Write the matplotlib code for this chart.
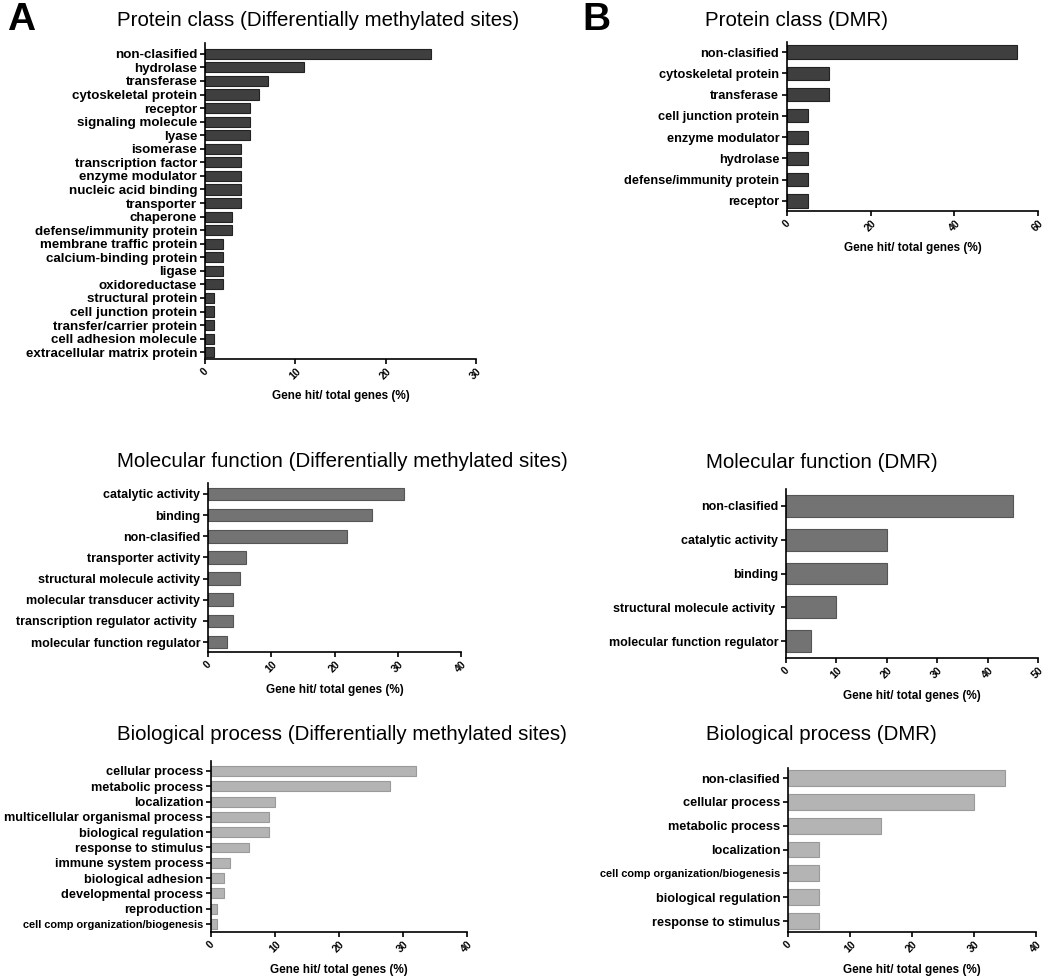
import matplotlib
matplotlib.use("Agg")
import matplotlib.pyplot as plt
import numpy as np

plt.rcParams['font.family'] = ['Liberation Sans', 'DejaVu Sans']

# ---- data ----
pc_dms_labels = ["non-clasified", "hydrolase", "transferase", "cytoskeletal protein",
                 "receptor", "signaling molecule", "lyase", "isomerase",
                 "transcription factor", "enzyme modulator", "nucleic acid binding",
                 "transporter", "chaperone", "defense/immunity protein",
                 "membrane traffic protein", "calcium-binding protein", "ligase",
                 "oxidoreductase", "structural protein", "cell junction protein",
                 "transfer/carrier protein", "cell adhesion molecule",
                 "extracellular matrix protein"]
pc_dms_values = [25, 11, 7, 6, 5, 5, 5, 4, 4, 4, 4, 4, 3, 3, 2, 2, 2, 2, 1, 1, 1, 1, 1]

pc_dmr_labels = ["non-clasified", "cytoskeletal protein", "transferase",
                 "cell junction protein", "enzyme modulator", "hydrolase",
                 "defense/immunity protein", "receptor"]
pc_dmr_values = [55, 10, 10, 5, 5, 5, 5, 5]

mf_dms_labels = ["catalytic activity", "binding", "non-clasified", "transporter activity",
                 "structural molecule activity", "molecular transducer activity",
                 "transcription regulator activity ", "molecular function regulator"]
mf_dms_values = [31, 26, 22, 6, 5, 4, 4, 3]

mf_dmr_labels = ["non-clasified", "catalytic activity", "binding",
                 "structural molecule activity ", "molecular function regulator"]
mf_dmr_values = [45, 20, 20, 10, 5]

bp_dms_labels = ["cellular process", "metabolic process", "localization",
                 "multicellular organismal process", "biological regulation",
                 "response to stimulus", "immune system process", "biological adhesion",
                 "developmental process", "reproduction",
                 "cell comp organization/biogenesis"]
bp_dms_values = [32, 28, 10, 9, 9, 6, 3, 2, 2, 1, 1]

bp_dmr_labels = ["non-clasified", "cellular process", "metabolic process", "localization",
                 "cell comp organization/biogenesis", "biological regulation",
                 "response to stimulus"]
bp_dmr_values = [35, 30, 15, 5, 5, 5, 5]

W, H = 1050, 977
fig = plt.figure(figsize=(W / 100, H / 100), dpi=100)


def panel(box, labels, values, xmax, step, color, edge, height, pad_top, pad_bot, fs=9):
    l, r, t, b = box
    ax = fig.add_axes([l / W, 1 - b / H, (r - l) / W, (b - t) / H])
    y = np.arange(len(labels))
    ax.barh(y, values, height=height, color=color, edgecolor=edge, linewidth=0.8)
    ax.set_ylim(len(labels) - 1 + pad_bot, -pad_top)
    ax.set_xlim(0, xmax)
    ax.set_xticks(np.arange(0, xmax + 1, step))
    ax.set_yticks(y)
    ax.set_yticklabels(labels, fontsize=fs, fontweight='bold')
    for lab in ax.get_yticklabels():
        if lab.get_text().startswith("cell comp"):
            lab.set_fontsize(7.9)
    for lab in ax.get_xticklabels():
        lab.set_rotation(45)
        lab.set_fontsize(7.5)
        lab.set_fontweight('bold')
    ax.spines['top'].set_visible(False)
    ax.spines['right'].set_visible(False)
    ax.spines['left'].set_linewidth(1.2)
    ax.spines['bottom'].set_linewidth(1.2)
    ax.tick_params(axis='both', length=3.5, width=1.2, pad=2)
    ax.annotate("Gene hit/ total genes (%)", xy=(0.5, 0), xycoords='axes fraction',
                xytext=(0, -27), textcoords='offset points', ha='center', va='center',
                fontsize=8.5, fontweight='bold')
    return ax


dark, dark_e = "#3f3f3f", "#222222"
mid, mid_e = "#737373", "#555555"
light, light_e = "#b4b4b4", "#9a9a9a"

panel((205, 476, 43, 359), pc_dms_labels, pc_dms_values, 30, 10, dark, dark_e, 0.75, 0.8, 0.5, fs=9.6)
panel((787, 1038, 42, 211), pc_dmr_labels, pc_dmr_values, 60, 20, dark, dark_e, 0.62, 0.47, 0.47, fs=9.2)
panel((208, 461, 483, 652), mf_dms_labels, mf_dms_values, 40, 10, mid, mid_e, 0.6, 0.52, 0.47)
panel((786, 1038, 489, 658), mf_dmr_labels, mf_dmr_values, 50, 10, mid, mid_e, 0.64, 0.5, 0.5)
panel((211, 467, 761, 932), bp_dms_labels, bp_dms_values, 40, 10, light, light_e, 0.65, 0.65, 0.52, fs=9.2)
panel((788, 1036, 768, 932), bp_dmr_labels, bp_dmr_values, 40, 10, light, light_e, 0.66, 0.42, 0.46, fs=9.2)

# titles
titles = [(117, 26, "Protein class (Differentially methylated sites)"),
          (705, 26, "Protein class (DMR)"),
          (117, 467, "Molecular function (Differentially methylated sites)"),
          (706, 468, "Molecular function (DMR)"),
          (117, 740, "Biological process (Differentially methylated sites)"),
          (706, 740, "Biological process (DMR)")]
for x, yb, s in titles:
    fig.text(x / W, 1 - yb / H, s, ha='left', va='baseline', fontsize=14.8)

fig.text(7 / W, 1 - 30 / H, "A", ha='left', va='baseline', fontsize=28, fontweight='bold')
fig.text(582 / W, 1 - 30 / H, "B", ha='left', va='baseline', fontsize=28, fontweight='bold')

plt.savefig("out.png", dpi=100)
